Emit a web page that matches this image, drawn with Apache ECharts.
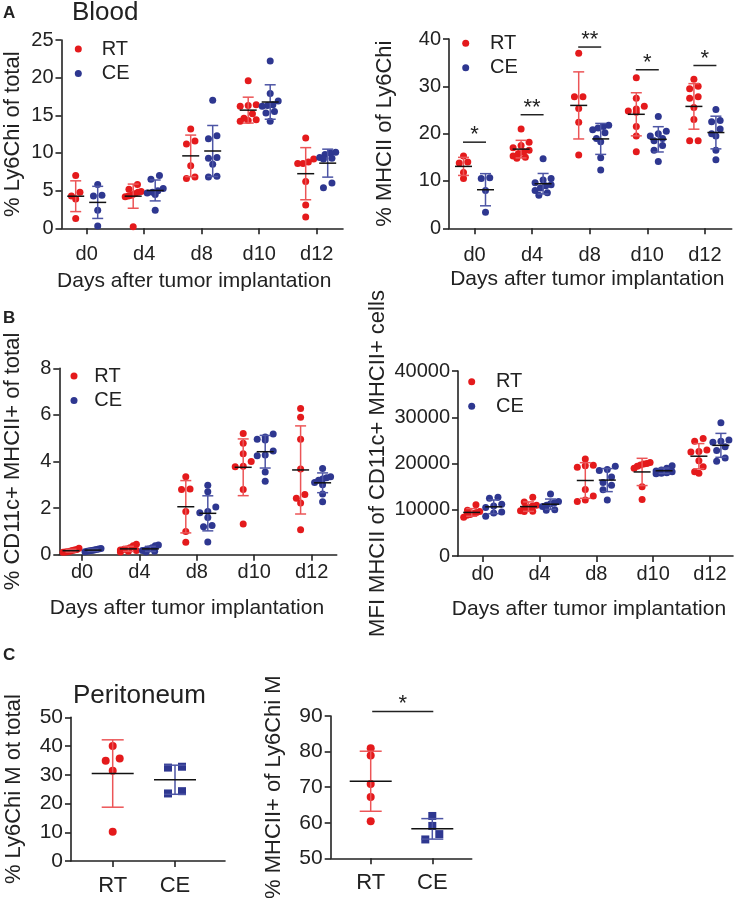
<!DOCTYPE html>
<html>
<head>
<meta charset="utf-8">
<script src="https://cdn.jsdelivr.net/npm/echarts@6.0.0/dist/echarts.min.js"></script>
<style>
  html, body { margin: 0; padding: 0; background: #fff; }
  #app { width: 736px; height: 898px; }
</style>
</head>
<body>
<div id="app"></div>
<script>
const days = ['d0', 'd4', 'd8', 'd10', 'd12'];
const groupNames = ['RT', 'CE'];

// A, left: % Ly6Chi of total (blood)
const ly6TotalRT = [
  [7.0, 4.8, 4.3, 3.9, 1.3],
  [5.8, 5.2, 4.9, 4.8, 4.6, 4.4, 4.3, 4.2, 0.2],
  [13.2, 11.6, 11.2, 8.3, 6.8, 6.6],
  [19.6, 16.4, 16.3, 16.2, 15.2, 14.6, 14.4, 14.3, 14.2],
  [12.0, 9.2, 8.8, 8.6, 8.6, 6.2, 3.1, 1.5]
];
const ly6TotalCE = [
  [5.8, 4.4, 4.3, 2.4, 0.3],
  [7.0, 6.5, 5.3, 5.0, 4.8, 4.7, 4.5, 2.4],
  [17.0, 12.3, 11.9, 9.4, 9.3, 8.5, 6.9, 6.8],
  [22.2, 17.9, 16.9, 16.4, 16.3, 16.2, 15.5, 15.3, 14.2],
  [10.1, 10.0, 9.8, 9.4, 9.3, 9.2, 6.0, 5.4]
];

// A, right: % MHCII of Ly6Chi
const mhcLyRT = [
  [15.3, 14.0, 13.8, 11.8, 10.5],
  [21.0, 18.2, 17.5, 17.0, 16.5, 16.2, 15.8, 15.3, 15.0, 14.8],
  [37.0, 27.8, 27.8, 25.3, 22.4, 15.5],
  [31.8, 27.5, 25.8, 25.2, 24.8, 24.5, 21.5, 19.5, 16.2],
  [31.5, 30.0, 29.5, 27.8, 27.5, 25.5, 23.0, 18.5, 18.5]
];
const mhcLyCE = [
  [10.7, 10.5, 8.0, 3.4],
  [14.7, 10.5, 10.2, 9.6, 9.2, 9.0, 8.5, 8.0, 7.5, 7.0],
  [21.8, 21.5, 21.2, 20.8, 20.2, 19.0, 18.3, 14.9, 12.3],
  [23.6, 20.5, 20.0, 19.5, 19.0, 18.5, 17.5, 16.5, 14.1],
  [25.1, 22.8, 22.5, 21.0, 20.0, 19.5, 16.5, 14.5]
];
const mhcLySig = ['*', '**', '**', '*', '*'];
const mhcLySigLevel = [18.2, 24.0, 38.3, 33.5, 34.4];

// B, left: % CD11c+ MHCII+ of total
const dcTotalRT = [
  [0.28, 0.22, 0.2, 0.18, 0.15, 0.13, 0.12, 0.1],
  [0.45, 0.38, 0.3, 0.25, 0.22, 0.2, 0.18, 0.15, 0.12],
  [3.35, 2.82, 2.8, 1.85, 1.0, 0.53],
  [5.2, 4.78, 4.33, 4.0, 3.8, 3.78, 2.8, 1.32],
  [6.28, 5.9, 4.95, 3.68, 2.58, 2.42, 2.22, 1.07]
];
const dcTotalCE = [
  [0.27, 0.25, 0.22, 0.2, 0.18, 0.17, 0.15, 0.13],
  [0.42, 0.38, 0.3, 0.25, 0.2, 0.18, 0.15, 0.12],
  [2.98, 2.7, 2.05, 1.85, 1.8, 1.6, 1.25, 1.2, 0.55],
  [5.18, 5.05, 4.95, 4.92, 4.45, 4.28, 4.25, 3.55, 3.15],
  [3.7, 3.35, 3.3, 3.25, 3.2, 3.1, 3.0, 2.6, 2.27]
];

// B, right: MFI MHCII of CD11c+ MHCII+ cells
const mfiRT = [
  [11100, 9900, 9600, 9400, 9200, 9000, 8800, 8400],
  [12700, 11700, 11000, 10800, 10500, 10300, 9800, 9700, 9600],
  [21000, 19600, 19500, 19200, 14400, 13000, 12100, 11800],
  [20200, 20000, 19900, 19700, 19400, 19000, 15000, 12200],
  [25400, 24800, 22900, 22600, 22500, 20600, 19300, 18200, 17900]
];
const mfiCE = [
  [12700, 12500, 11200, 10800, 10500, 9500, 9300, 8600],
  [13400, 11800, 11500, 11300, 11000, 10700, 10000, 9900],
  [19400, 18700, 18500, 17100, 15900, 15300, 14300, 12100],
  [19500, 19000, 18600, 18400, 18200, 18000, 17900, 17800],
  [28800, 25100, 24800, 24600, 23600, 22800, 21200, 20500]
];

// C: peritoneum
const ly6MRT = [40.0, 35.7, 34.9, 31.4, 10.2];
const ly6MCE = [32.8, 32.5, 24.3, 23.5];
const mhcMRT = [80.9, 78.9, 70.9, 67.2, 60.4];
const mhcMCE = [61.9, 59.1, 56.8, 55.3];
const mhcMSig = ['*'];
const mhcMSigLevel = [91.3];

const font = 'Liberation Sans, Arial, Helvetica, sans-serif';
const ink = '#222';
const red = '#e41a1c', blue = '#2e3790';
const redBar = '#ec5557', blueBar = '#4d55a5';

// box = [left, top, right, bottom] in px, t0/step = where the first tick sits and the tick spacing
// legend = [dot centre x, first dot centre y, gap from dot centre to text]
const panels = [
  { box: [61.5, 40, 343, 228.3], t0: 86.7, step: 57.5, cats: days, y: [0, 25, 5],
    yName: '% Ly6Chi of total', yGap: 38, xName: 'Days after tumor implantation', xGap: 42, xShift: 8,
    xMargin: 16, xFont: 20, yFont: 20, legend: [78.3, 49, 23.4], dot: 7, sp: 8.5, maxW: 16, cap: 11, meanW: 17 },
  { box: [449, 39, 731.7, 228.3], t0: 474.5, step: 57.6, cats: days, y: [0, 40, 10],
    yName: '% MHCII of Ly6Chi', yGap: 53, xName: 'Days after tumor implantation', xGap: 40, xShift: 3,
    xMargin: 17, xFont: 20, yFont: 20, legend: [465.7, 43.3, 24.3], dot: 7, sp: 8.5, maxW: 16, cap: 11, meanW: 17 },
  { box: [59.3, 368.3, 336.7, 554.7], t0: 82, step: 57.4, cats: days, y: [0, 8, 2],
    yName: '% CD11c+ MHCII+ of total', yGap: 35, xName: 'Days after tumor implantation', xGap: 43, xShift: 11,
    xMargin: 8, xFont: 20, yFont: 20, legend: [74, 376, 20.3], dot: 7, sp: 8.5, maxW: 16, cap: 11, meanW: 17 },
  { box: [458, 371, 733, 556], t0: 482.7, step: 56.8, cats: days, y: [0, 40000, 10000],
    yName: 'MFI MHCII of CD11c+ MHCII+ cells', yGap: 69, xName: 'Days after tumor implantation', xGap: 43, xShift: 6.5,
    xMargin: 8, xFont: 20, yFont: 20, legend: [471.7, 381.7, 24.3], dot: 7, sp: 8.5, maxW: 16, cap: 11, meanW: 17 },
  { box: [71, 717.3, 225, 861], t0: 112.7, step: 62.3, cats: groupNames, y: [0, 50, 10],
    yName: '% Ly6Chi M ot total', yGap: 46, xName: '', xMargin: 14, xFont: 22, yFont: 21,
    dot: 8, sp: 14, maxW: 28, cap: 22, meanW: 42 },
  { box: [330.7, 716, 471.7, 858.3], t0: 370.7, step: 61.6, cats: groupNames, y: [50, 90, 10],
    yName: '% MHCII+ of Ly6Chi M', yGap: 45.7, xName: '', xMargin: 14, xFont: 22, yFont: 21,
    dot: 8, sp: 14, maxW: 28, cap: 22, meanW: 42 }
];

const all5 = [0, 1, 2, 3, 4];
const groups = [
  { panel: 0, name: 'RT', vals: ly6TotalRT, at: all5, off: -11, color: red, bar: redBar },
  { panel: 0, name: 'CE', vals: ly6TotalCE, at: all5, off: 11, color: blue, bar: blueBar },
  { panel: 1, name: 'RT', vals: mhcLyRT, at: all5, off: -11, color: red, bar: redBar },
  { panel: 1, name: 'CE', vals: mhcLyCE, at: all5, off: 11, color: blue, bar: blueBar },
  { panel: 2, name: 'RT', vals: dcTotalRT, at: all5, off: -11, color: red, bar: redBar },
  { panel: 2, name: 'CE', vals: dcTotalCE, at: all5, off: 11, color: blue, bar: blueBar },
  { panel: 3, name: 'RT', vals: mfiRT, at: all5, off: -11, color: red, bar: redBar },
  { panel: 3, name: 'CE', vals: mfiCE, at: all5, off: 11, color: blue, bar: blueBar },
  { panel: 4, name: 'RT', vals: [ly6MRT], at: [0], off: 0, color: red, bar: redBar },
  { panel: 4, name: 'CE', vals: [ly6MCE], at: [1], off: 0, color: blue, bar: blueBar, square: true },
  { panel: 5, name: 'RT', vals: [mhcMRT], at: [0], off: 0, color: red, bar: redBar },
  { panel: 5, name: 'CE', vals: [mhcMCE], at: [1], off: 0, color: blue, bar: blueBar, square: true }
];

function meanSd(v) {
  const m = v.reduce((a, b) => a + b, 0) / v.length;
  const s = Math.sqrt(v.reduce((a, b) => a + (b - m) * (b - m), 0) / (v.length - 1));
  return [m, s];
}

// dots at nearly the same height go side by side, like a prism dot plot
function swarm(ys, size, sp, maxW) {
  const order = ys.map((y, i) => i).sort((a, b) => ys[a] - ys[b]);
  const rows = [];
  order.forEach(i => {
    const last = rows[rows.length - 1];
    if (last && ys[i] - last.y0 < size * 0.85) last.m.push(i);
    else rows.push({ y0: ys[i], m: [i] });
  });
  const dx = [];
  rows.forEach(r => {
    const n = r.m.length;
    const s = n > 1 ? Math.min(sp, maxW / (n - 1)) : 0;
    r.m.sort((a, b) => ys[b] - ys[a]).forEach((i, k) => { dx[i] = (k - (n - 1) / 2) * s; });
  });
  return dx;
}

function dotSeries(g) {
  const p = panels[g.panel];
  const data = [];
  g.vals.forEach((arr, k) => arr.forEach((v, j) => data.push([g.at[k], v, k, j])));
  return {
    type: 'custom', name: g.name, xAxisIndex: g.panel, yAxisIndex: g.panel, z: 2, clip: false,
    itemStyle: { color: g.color }, data, encode: { x: 0, y: 1 },
    renderItem(params, api) {
      const k = api.value(2), j = api.value(3);
      const arr = g.vals[k], xv = g.at[k];
      const dx = swarm(arr.map(v => api.coord([xv, v])[1]), p.dot, p.sp, p.maxW);
      const c = api.coord([xv, arr[j]]);
      const x = c[0] + g.off + dx[j], y = c[1], r = p.dot / 2;
      if (g.square) {
        return { type: 'rect', shape: { x: x - r, y: y - r, width: p.dot, height: p.dot }, style: { fill: g.color } };
      }
      return { type: 'circle', shape: { cx: x, cy: y, r }, style: { fill: g.color } };
    }
  };
}

function errSeries(g) {
  const p = panels[g.panel];
  const data = g.vals.map((arr, k) => [g.at[k]].concat(meanSd(arr)));
  return {
    type: 'custom', name: g.name + ' mean ± SD', xAxisIndex: g.panel, yAxisIndex: g.panel, z: 3, clip: false,
    data, encode: { x: 0, y: 1 },
    renderItem(params, api) {
      const xv = api.value(0), m = api.value(1), s = api.value(2);
      const c = api.coord([xv, m]);
      const hi = api.coord([xv, m + s])[1], lo = api.coord([xv, m - s])[1];
      const x = c[0] + g.off, cw = p.cap / 2, mw = p.meanW / 2;
      const st = { stroke: g.bar, lineWidth: 1.5 };
      return {
        type: 'group', children: [
          { type: 'line', shape: { x1: x, y1: hi, x2: x, y2: lo }, style: st },
          { type: 'line', shape: { x1: x - cw, y1: hi, x2: x + cw, y2: hi }, style: st },
          { type: 'line', shape: { x1: x - cw, y1: lo, x2: x + cw, y2: lo }, style: st },
          { type: 'line', shape: { x1: x - mw, y1: c[1], x2: x + mw, y2: c[1] }, style: { stroke: '#111', lineWidth: 1.5 } }
        ]
      };
    }
  };
}

function sigSeries(panel, from, to, level, marks, offA, offB) {
  return {
    type: 'custom', name: 'significance', xAxisIndex: panel, yAxisIndex: panel, z: 4, clip: false,
    data: level.map((y, i) => [from[i], y, to[i]]), encode: { x: 0, y: 1 },
    renderItem(params, api) {
      const a = api.coord([api.value(0), api.value(1)]);
      const b = api.coord([api.value(2), api.value(1)]);
      const x1 = a[0] + offA, x2 = b[0] + offB, y = a[1];
      return {
        type: 'group', children: [
          { type: 'line', shape: { x1, y1: y, x2, y2: y }, style: { stroke: ink, lineWidth: 1.5 } },
          { type: 'text', x: (x1 + x2) / 2, y: y - 7,
            style: { text: marks[params.dataIndex], fill: ink, fontSize: 22, fontFamily: font, align: 'center', verticalAlign: 'middle' } }
        ]
      };
    }
  };
}

const axisLine = { color: ink, width: 1.6 };

const grid = panels.map(p => ({
  left: p.box[0], top: p.box[1], width: p.box[2] - p.box[0], height: p.box[3] - p.box[1],
  containLabel: false, outerBoundsMode: 'none'
}));

const xAxis = panels.map((p, i) => {
  const ticks = p.cats.map((c, k) => k);
  return {
    type: 'value', gridIndex: i,
    min: (p.box[0] - p.t0) / p.step, max: (p.box[2] - p.t0) / p.step,
    axisLine: { show: true, onZero: false, lineStyle: axisLine },
    axisTick: { show: true, length: 6, customValues: ticks, lineStyle: axisLine },
    axisLabel: { customValues: ticks, formatter: v => p.cats[Math.round(v)], margin: p.xMargin,
      fontSize: p.xFont, fontFamily: font, color: ink },
    splitLine: { show: false },
    name: p.xName, nameLocation: 'middle', nameGap: p.xGap, nameMoveOverlap: false,
    nameTextStyle: { fontSize: 21, fontFamily: font, color: ink, padding: [0, 2 * (p.xShift || 0), 0, 0] }
  };
});

const yAxis = panels.map((p, i) => ({
  type: 'value', gridIndex: i, min: p.y[0], max: p.y[1], interval: p.y[2],
  axisLine: { show: true, onZero: false, lineStyle: axisLine },
  axisTick: { show: true, length: 6, lineStyle: axisLine },
  axisLabel: { margin: 8, fontSize: p.yFont, fontFamily: font, color: ink, formatter: v => String(v) },
  splitLine: { show: false },
  name: p.yName, nameLocation: 'middle', nameGap: p.yGap, nameMoveOverlap: false,
  nameTextStyle: { fontSize: 22, fontFamily: font, color: ink }
}));

// small round icon, text pushed right with padding
const legend = panels.filter(p => p.legend).map(p => ({
  data: groupNames, orient: 'vertical', left: p.legend[0] - 3.5, top: p.legend[1] - 10,
  itemWidth: 7, itemHeight: 7, itemGap: 4.5, icon: 'circle', padding: 0, selectedMode: false,
  textStyle: { fontSize: 20, fontFamily: font, color: ink, lineHeight: 20, padding: [0, 0, 0, p.legend[2] - 8.5] }
}));

const titleStyle = (size, weight) => ({ fontSize: size, fontWeight: weight, fontFamily: font, color: ink });
const title = [
  { text: 'A', left: 3, top: 5, padding: 0, textStyle: titleStyle(17, 'bold') },
  { text: 'Blood', left: 72, top: 0, padding: 0, textStyle: titleStyle(26, 'normal') },
  { text: 'B', left: 3, top: 310, padding: 0, textStyle: titleStyle(17, 'bold') },
  { text: 'C', left: 3, top: 647, padding: 0, textStyle: titleStyle(17, 'bold') },
  { text: 'Peritoneum', left: 73, top: 683, padding: 0, textStyle: titleStyle(26, 'normal') }
];

const series = [];
groups.forEach(g => series.push(dotSeries(g)));
groups.forEach(g => series.push(errSeries(g)));
series.push(sigSeries(1, all5, all5, mhcLySigLevel, mhcLySig, -11.5, 11.5));
series.push(sigSeries(5, [0], [1], mhcMSigLevel, mhcMSig, 1.5, 1));

const chart = echarts.init(document.getElementById('app'));
chart.setOption({
  animation: false,
  backgroundColor: '#fff',
  textStyle: { fontFamily: font },
  title, legend, grid, xAxis, yAxis, series
});
</script>
</body>
</html>
